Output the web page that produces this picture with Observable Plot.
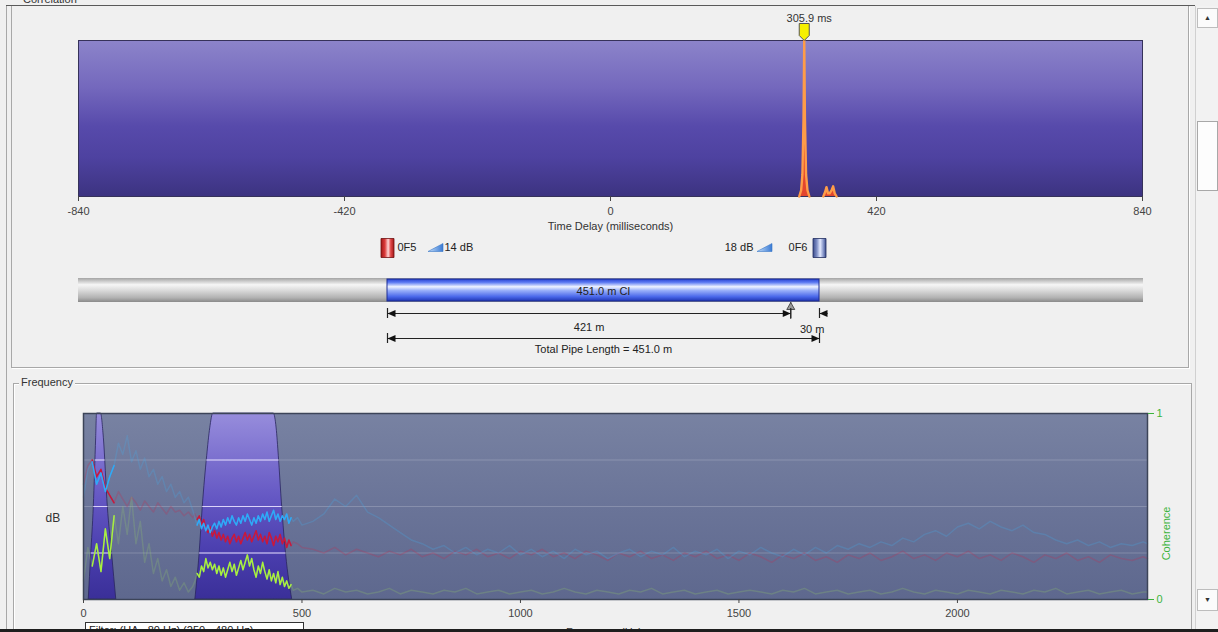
<!DOCTYPE html>
<html><head><meta charset="utf-8">
<script src="https://cdn.jsdelivr.net/npm/d3@7"></script>
<script src="https://cdn.jsdelivr.net/npm/@observablehq/plot@0.6"></script>
<style>
html,body{margin:0;padding:0;background:#f0f0f0;}
#root{position:relative;width:1218px;height:632px;overflow:hidden;background:#f0f0f0;font-family:"Liberation Sans",Arial,sans-serif;font-size:11px;color:#222;}
.abs{position:absolute;}
.abs svg{display:block;}
</style></head><body><div id="root"></div>
<script>
// ---------------- DATA ----------------
// Correlation (time delay in ms, normalised correlation)
const corrLag   = [298, 301, 303, 304.8, 305.9, 307, 308.8, 311, 314,   336, 339, 341, 343.5, 346, 349, 351.5, 354, 357];
const corrValue = [0,   0.04, 0.14, 0.5, 1.0,   0.5, 0.14, 0.04, 0,      0, 0.03, 0.06, 0.02, 0.02, 0.04, 0.065, 0.02, 0];
const peakDelay = 305.9;
const timeTicks = [-840, -420, 0, 420, 840];

// Pipe
const pipeLength = 451.0;
const pipeMaterial = "CI";
const leakDistance = 421;
const sensorNames = ["0F5", "0F6"];
const sensorGainDb = [14, 18];

// Frequency spectra
const freqHz = [
  0,10,20,30,40,50,60,70,80,90,100,110,120,130,140,150,160,170,180,190,200,210,220,230,240,250,
  255,260,265,270,275,280,285,290,295,300,305,310,315,320,325,330,335,340,345,350,355,360,365,370,375,380,385,390,395,400,405,410,415,420,425,430,435,440,445,450,455,460,465,470,475,480,
  490,500,
  525,550,575,600,625,650,675,700,725,750,775,800,825,850,875,900,925,950,975,1000,
  1025,1050,1075,1100,1125,1150,1175,1200,1225,1250,1275,1300,1325,1350,1375,1400,1425,1450,1475,1500,
  1525,1550,1575,1600,1625,1650,1675,1700,1725,1750,1775,1800,1825,1850,1875,1900,1925,1950,1975,2000,
  2025,2050,2075,2100,2125,2150,2175,2200,2225,2250,2275,2300,2325,2350,2375,2400,2425,
  2435];
const blueDb = [
  55,70,74,62,68,58,66,72,84,78,88,74,80,70,76,66,70,62,66,58,62,55,58,52,55,48,
  44,40,43,38,41,37,40,36,39,41,38,42,39,43,40,44,41,45,42,40,44,41,45,42,46,43,40,44,41,45,42,46,43,47,42,45,48,43,46,42,45,43,46,41,44,42,
  44,40,
  42,46,54,50,56,47,44,40,36,32,30,27,29,25,28,24,27,25,29,24,
  27,23,26,22,27,24,26,22,25,27,23,26,24,28,23,26,24,27,22,26,
  24,28,25,23,27,24,28,25,29,27,30,28,31,29,33,31,35,37,34,39,
  41,38,42,39,37,40,36,35,32,30,32,29,31,28,30,29,31,
  30];
const redDb = [
  62,72,75,66,70,60,56,52,58,54,50,55,52,48,53,50,47,52,49,46,50,47,48,45,47,44,
  46,43,45,40,43,38,36,39,34,37,33,36,32,35,31,34,30,33,35,31,34,30,33,36,32,35,31,34,37,32,35,31,34,30,36,33,29,34,31,35,30,33,28,32,29,31,
  30,28,
  27,25,28,24,27,25,23,26,24,27,23,25,22,26,24,27,23,25,22,26,
  24,27,23,25,22,26,24,21,25,23,26,22,24,21,25,23,26,22,24,21,
  25,23,20,24,22,25,21,23,20,24,22,25,21,23,26,22,24,21,25,23,
  26,22,24,21,25,23,20,24,22,25,21,23,20,24,22,21,23,
  22];
const coherence = [
  0.10,0.28,0.18,0.30,0.15,0.38,0.22,0.45,0.30,0.50,0.35,0.55,0.30,0.42,0.20,0.30,0.14,0.22,0.10,0.16,0.07,0.12,0.05,0.09,0.04,0.07,
  0.10,0.14,0.12,0.18,0.15,0.22,0.17,0.20,0.16,0.19,0.14,0.18,0.13,0.17,0.12,0.16,0.20,0.15,0.19,0.13,0.17,0.21,0.16,0.20,0.24,0.18,0.22,0.16,0.12,0.18,0.14,0.20,0.15,0.11,0.16,0.10,0.14,0.09,0.15,0.08,0.12,0.07,0.10,0.06,0.08,0.05,
  0.06,0.04,
  0.05,0.03,0.06,0.04,0.05,0.03,0.04,0.06,0.03,0.05,0.04,0.03,0.05,0.04,0.06,0.03,0.04,0.05,0.03,0.04,
  0.05,0.03,0.04,0.06,0.04,0.03,0.05,0.04,0.03,0.05,0.04,0.06,0.03,0.04,0.05,0.03,0.04,0.05,0.03,0.04,
  0.05,0.04,0.03,0.05,0.04,0.06,0.03,0.04,0.05,0.03,0.04,0.05,0.03,0.04,0.06,0.04,0.03,0.05,0.04,0.03,
  0.05,0.04,0.03,0.05,0.04,0.03,0.05,0.04,0.06,0.03,0.04,0.05,0.03,0.04,0.05,0.03,0.04,
  0.04];
// Filter pass-band shapes
const filterBand = [1,1,1,1,1,1,1,1,1,1, 2,2,2,2,2,2,2,2,2,2,2,2];
const filterHz   = [12,17.5,23.6,29,31,40,46.5,55.6,65.6,75, 256,265.5,273,283,290,297,435.5,442,447,454.6,463.8,477.6];
const filterGain = [0,0.24,0.5,0.87,1,1,0.87,0.5,0.24,0, 0,0.24,0.5,0.77,0.92,1,1,0.92,0.77,0.5,0.24,0];
const freqTicks = [0, 500, 1000, 1500, 2000];
const dbGrid = [25, 50, 75];
const cohTicks = [0, 1];
const filterText = "Filter: (HA - 80 Hz) (250 - 480 Hz)";

// ---------------- LAYOUT ----------------
const W = 1190;
const FONT = "'Liberation Sans', Arial, sans-serif";
const root = document.getElementById("root");
function box(css, html = "") {
  const d = document.createElement("div");
  d.className = "abs"; d.style.cssText = css; d.innerHTML = html;
  root.appendChild(d); return d;
}
function place(node, left, top) {
  const d = box(`left:${left}px;top:${top}px;`);
  d.appendChild(node);
}
const defs = (html) => () => {
  const g = document.createElementNS("http://www.w3.org/2000/svg", "defs");
  g.innerHTML = html; return g;
};
const sym = (fn) => ({ draw(ctx) { fn(ctx); } });
const markerSym = sym(c => { c.moveTo(-5,-9); c.lineTo(5,-9); c.lineTo(5,3); c.lineTo(0,8); c.lineTo(-5,3); c.closePath(); });
const sensorSym = sym(c => { c.rect(-6.5,-9.5,13,19); });
const gainSym = sym(c => { c.moveTo(-7.5,4); c.lineTo(7.5,4); c.lineTo(7.5,-4); c.closePath(); });
const arrowL = sym(c => { c.moveTo(0,0); c.lineTo(8,-3.5); c.lineTo(8,3.5); c.closePath(); });
const arrowR = sym(c => { c.moveTo(0,0); c.lineTo(-8,-3.5); c.lineTo(-8,3.5); c.closePath(); });
const leakSym = sym(c => { c.moveTo(0,-4); c.lineTo(4,3); c.lineTo(-4,3); c.closePath(); });

// window chrome
box("left:6px;top:5px;width:1px;height:627px;background:#a8a8a8");
box("left:6px;top:5px;width:1189px;height:1px;background:#5a5a5a");
box("left:11px;top:6px;width:1176px;height:361px;border-left:1px solid #a8a8a8;border-right:1px solid #a8a8a8;border-bottom:1px solid #a8a8a8;box-shadow:1px 1px 0 #fff");
box("left:21px;top:-7px;padding:0 2px;background:#f0f0f0;color:#333", "Correlation");
box("left:13px;top:383px;width:1177px;height:260px;border:1px solid #a8a8a8;box-shadow:inset 1px 1px 0 #fff");
box("left:19px;top:376px;padding:0 2px;background:#f0f0f0;color:#333", "Frequency");
box("left:1195px;top:6px;width:23px;height:626px;background:#f2f2f2;border-left:1px solid #d0d0d0");
box("left:1197px;top:8px;width:19px;height:18px;border:1px solid #bdbdbd;background:#fbfbfb;font-size:7px;text-align:center;line-height:18px;color:#333", "▲");
box("left:1197px;top:121px;width:19px;height:68px;border:1px solid #a8a8a8;background:#fdfdfd");
box("left:1197px;top:589px;width:19px;height:20px;border:1px solid #bdbdbd;background:#fbfbfb;font-size:7px;text-align:center;line-height:20px;color:#333", "▼");

// ---------------- CORRELATION PLOT ----------------
const corrData = corrLag.map((lag, i) => ({ lag, v: corrValue[i], g: lag < 325 ? "peak" : "side" }));
const p1 = Plot.plot({
  width: W, height: 240,
  marginLeft: 78, marginRight: W - 1142, marginTop: 40, marginBottom: 44,
  style: { background: "transparent", fontFamily: FONT, fontSize: "11px", color: "#333", overflow: "visible" },
  x: { domain: [timeTicks[0], timeTicks[timeTicks.length - 1]] },
  y: { domain: [0, 1], axis: null },
  marks: [
    defs(`<linearGradient id="corrGrad" x1="0" y1="0" x2="0" y2="1">
      <stop offset="0" stop-color="#8c84ca"/><stop offset="0.3" stop-color="#7468bd"/>
      <stop offset="0.55" stop-color="#574aab"/><stop offset="0.75" stop-color="#4e42a0"/>
      <stop offset="1" stop-color="#3c3380"/></linearGradient>`),
    Plot.frame({ fill: "url(#corrGrad)", stroke: "#36325a" }),
    Plot.areaY(corrData, { x: "lag", y: "v", z: "g", fill: "#e2452e" }),
    Plot.lineY(corrData, { x: "lag", y: "v", z: "g", stroke: "#ff9c48", strokeWidth: 2.4 }),
    Plot.axisX({ ticks: timeTicks, tickSize: 5, tickPadding: 6, tickFormat: d => String(d), label: null, color: "#444" }),
    Plot.text(["Time Delay (milliseconds)"], { frameAnchor: "bottom", dy: 33, fill: "#333" }),
    Plot.dot([peakDelay], { x: d => d, frameAnchor: "top", dy: -8, symbol: markerSym, fill: "#f6f000", stroke: "#555", strokeWidth: 1 }),
    Plot.text([peakDelay], { x: d => d, frameAnchor: "top", dy: -26, dx: 5, text: d => `${d} ms`, fill: "#333" })
  ]
});
place(p1, 0, 0);

// ---------------- PIPE DIAGRAM ----------------
const pxPerM = (819 - 387) / pipeLength;
const xPipe = [(78 - 387) / pxPerM, (1143 - 387) / pxPerM];
const sensors = sensorNames.map((name, i) => ({ name, at: i === 0 ? 0 : pipeLength, gain: sensorGainDb[i] }));
const ends1 = [{ x: 0 }, { x: leakDistance }, { x: pipeLength }];
const ends2 = [{ x: 0 }, { x: pipeLength }];
const T = { fill: "#222", fontSize: 11 };
const p2 = Plot.plot({
  width: W, height: 130,
  marginLeft: 78, marginRight: W - 1143, marginTop: 0, marginBottom: 0,
  style: { background: "transparent", fontFamily: FONT, fontSize: "11px", color: "#222", overflow: "visible" },
  x: { domain: xPipe, axis: null },
  y: { domain: [0, 130], reverse: true, axis: null },
  marks: [
    defs(`<linearGradient id="pipeGray" x1="0" y1="0" x2="0" y2="1">
        <stop offset="0" stop-color="#a4a4a4"/><stop offset="0.28" stop-color="#f6f6f6"/>
        <stop offset="0.5" stop-color="#dcdcdc"/><stop offset="0.82" stop-color="#b2b2b2"/><stop offset="1" stop-color="#8a8a8a"/></linearGradient>
      <linearGradient id="pipeBlue" x1="0" y1="0" x2="0" y2="1">
        <stop offset="0" stop-color="#2842d0"/><stop offset="0.15" stop-color="#5a78f2"/>
        <stop offset="0.35" stop-color="#eef3ff"/><stop offset="0.52" stop-color="#9ab0fa"/>
        <stop offset="0.8" stop-color="#4a68ea"/><stop offset="1" stop-color="#2036b4"/></linearGradient>
      <linearGradient id="iconRed" x1="0" y1="0" x2="1" y2="0">
        <stop offset="0" stop-color="#a01818"/><stop offset="0.3" stop-color="#dc3a3a"/>
        <stop offset="0.55" stop-color="#ffd8d8"/><stop offset="0.75" stop-color="#e04646"/><stop offset="1" stop-color="#a41a1a"/></linearGradient>
      <linearGradient id="iconBlue" x1="0" y1="0" x2="1" y2="0">
        <stop offset="0" stop-color="#3c4c8c"/><stop offset="0.3" stop-color="#8090c6"/>
        <stop offset="0.55" stop-color="#e4eaff"/><stop offset="0.8" stop-color="#8494c8"/><stop offset="1" stop-color="#3c4c8c"/></linearGradient>
      <linearGradient id="gainGrad" x1="0" y1="0" x2="1" y2="0">
        <stop offset="0" stop-color="#c4defa"/><stop offset="1" stop-color="#3a7ad4"/></linearGradient>`),
    // legend
    Plot.dot([sensors[0]], { x: "at", y: 15.5, symbol: sensorSym, fill: "url(#iconRed)", stroke: "#701010", strokeWidth: 0.8 }),
    Plot.dot([sensors[1]], { x: "at", y: 15.5, symbol: sensorSym, fill: "url(#iconBlue)", stroke: "#202c60", strokeWidth: 0.8 }),
    Plot.text([sensors[0]], { x: "at", y: 15, text: "name", dx: 10, textAnchor: "start", ...T }),
    Plot.text([sensors[1]], { x: "at", y: 15, text: "name", dx: -12, textAnchor: "end", ...T }),
    Plot.dot([sensors[0]], { x: "at", y: 15, dx: 48, symbol: gainSym, fill: "url(#gainGrad)", stroke: "#3a78c8", strokeWidth: 0.6 }),
    Plot.dot([sensors[1]], { x: "at", y: 15, dx: -55, symbol: gainSym, fill: "url(#gainGrad)", stroke: "#3a78c8", strokeWidth: 0.6 }),
    Plot.text([sensors[0]], { x: "at", y: 15, text: d => `${d.gain} dB`, dx: 57, textAnchor: "start", ...T }),
    Plot.text([sensors[1]], { x: "at", y: 15, text: d => `${d.gain} dB`, dx: -66, textAnchor: "end", ...T }),
    // pipe
    Plot.rect([xPipe], { x1: d => d[0], x2: d => d[1], y1: 46, y2: 70, fill: "url(#pipeGray)" }),
    Plot.rect([pipeLength], { x1: 0, x2: d => d, y1: 47, y2: 69, fill: "url(#pipeBlue)", stroke: "#1c2c94", strokeWidth: 1 }),
    Plot.text([pipeLength], { x: d => d / 2, y: 59, text: d => `${d.toFixed(1)} m ${pipeMaterial}`, ...T }),
    // leak marker
    Plot.ruleX([leakDistance], { x: d => d, y1: 70, y2: 87, stroke: "#333" }),
    Plot.dot([leakDistance], { x: d => d, y: 74, symbol: leakSym, fill: "#9a9a9a", stroke: "#333", strokeWidth: 0.8 }),
    // dimension line 1 (0F5 -> leak, leak -> 0F6)
    Plot.ruleY([leakDistance], { y: 81, x1: 0, x2: d => d, stroke: "#222" }),
    Plot.ruleY([pipeLength], { y: 81, x1: d => d, x2: d => d + 9, stroke: "#222" }),
    Plot.ruleX(ends1, { x: "x", y1: 76, y2: 86, stroke: "#222", strokeWidth: 1.2 }),
    Plot.dot([0], { x: d => d, y: 81, symbol: arrowL, fill: "#111" }),
    Plot.dot([leakDistance], { x: d => d, y: 81, symbol: arrowR, fill: "#111" }),
    Plot.dot([pipeLength], { x: d => d, y: 81, symbol: arrowL, fill: "#111" }),
    Plot.text([leakDistance], { x: d => d / 2, y: 95, text: d => `${d} m`, ...T }),
    Plot.text([pipeLength - leakDistance], { x: d => leakDistance + d / 2, y: 97, dx: 7, text: d => `${d} m`, ...T }),
    // dimension line 2 (total)
    Plot.ruleY([pipeLength], { y: 106, x1: 0, x2: d => d, stroke: "#222" }),
    Plot.ruleX(ends2, { x: "x", y1: 101, y2: 111, stroke: "#222", strokeWidth: 1.2 }),
    Plot.dot([0], { x: d => d, y: 106, symbol: arrowL, fill: "#111" }),
    Plot.dot([pipeLength], { x: d => d, y: 106, symbol: arrowR, fill: "#111" }),
    Plot.text([pipeLength], { x: d => d / 2, y: 117, text: d => `Total Pipe Length = ${d.toFixed(1)} m`, ...T })
  ]
});
place(p2, 0, 232);

// ---------------- FREQUENCY PLOT ----------------
const freqData = freqHz.map((f, i) => ({ f, blue: blueDb[i], red: redDb[i], coh: coherence[i] }));
const filterData = filterHz.map((f, i) => ({ f, g: filterGain[i], band: filterBand[i] }));
const bands = d3.groups(filterData, d => d.band).map(([, pts]) => pts);
const bandRanges = bands.map(pts => d3.extent(pts, d => d.f));
const inBand = f => bandRanges.some(([a, b]) => f >= a && f <= b);
function crossing(pts, level) {
  let left = null, right = null;
  for (let i = 1; i < pts.length; i++) {
    const a = pts[i - 1], b = pts[i];
    if (left === null && a.g < level && b.g >= level) left = a.f + (level - a.g) / (b.g - a.g) * (b.f - a.f);
    if (a.g >= level && b.g < level) right = a.f + (a.g - level) / (a.g - b.g) * (b.f - a.f);
  }
  return [left, right];
}
const gridSegs = [];
for (const pts of bands) for (const lv of dbGrid) {
  const [x1, x2] = crossing(pts, lv / 100);
  if (x1 != null && x2 != null) gridSegs.push({ y: lv, x1, x2 });
}
const bright = key => d => inBand(d.f) ? (key === "coh" ? d.coh * 100 : d[key]) : NaN;
const p3 = Plot.plot({
  width: W, height: 249,
  marginLeft: 83, marginRight: W - 1147, marginTop: 30, marginBottom: 33,
  style: { background: "transparent", fontFamily: FONT, fontSize: "11px", color: "#333", overflow: "visible" },
  x: { domain: [0, 2435] },
  y: { domain: [0, 100] },
  marks: [
    defs(`<linearGradient id="freqBg" x1="0" y1="0" x2="0" y2="1">
        <stop offset="0" stop-color="#7882a2"/><stop offset="0.5" stop-color="#6a7498"/><stop offset="1" stop-color="#5e688e"/></linearGradient>
      <linearGradient id="bandGrad" x1="0" y1="0" x2="0" y2="1">
        <stop offset="0" stop-color="#978ddc"/><stop offset="0.45" stop-color="#6558c4"/>
        <stop offset="0.75" stop-color="#4a3eae"/><stop offset="1" stop-color="#3a2f98"/></linearGradient>`),
    Plot.frame({ fill: "url(#freqBg)" }),
    Plot.areaY(filterData, { x: "f", y: d => d.g * 100, z: "band", curve: "monotone-x", fill: "url(#bandGrad)", stroke: "#2a2660", strokeWidth: 0.8 }),
    Plot.ruleY(dbGrid, { stroke: "#ffffff", strokeOpacity: 0.2 }),
    Plot.ruleY(gridSegs, { y: "y", x1: "x1", x2: "x2", stroke: "#e6deff", strokeOpacity: 0.9 }),
    Plot.lineY(freqData, { x: "f", y: "red", stroke: "#c42a4c", strokeOpacity: 0.26 }),
    Plot.lineY(freqData, { x: "f", y: "blue", stroke: "#44aae6", strokeOpacity: 0.26 }),
    Plot.lineY(freqData, { x: "f", y: d => d.coh * 100, stroke: "#9cd862", strokeOpacity: 0.22 }),
    Plot.lineY(freqData, { x: "f", y: bright("red"), stroke: "#c8183c", strokeWidth: 1.5 }),
    Plot.lineY(freqData, { x: "f", y: bright("blue"), stroke: "#2eaaf8", strokeWidth: 1.5 }),
    Plot.lineY(freqData, { x: "f", y: bright("coh"), stroke: "#a8f040", strokeWidth: 1.5 }),
    Plot.frame({ stroke: "#3c4458", strokeWidth: 1.5 }),
    Plot.axisX({ ticks: freqTicks, tickSize: 4, tickPadding: 6, tickFormat: d => String(d), label: null, color: "#444" }),
    Plot.axisY({ anchor: "right", ticks: cohTicks.map(c => c * 100), tickFormat: d => String(d / 100), tickSize: 6, tickPadding: 3, label: null, color: "#3cb43c" }),
    Plot.text(["dB"], { frameAnchor: "left", dx: -38, dy: 12, fontSize: 12, fill: "#333" }),
    Plot.text(["Coherence"], { frameAnchor: "right", dx: 19, rotate: -90, fill: "#3cb43c", fontSize: 11 })
  ]
});
place(p3, 0, 383);

// bottom bits
box(`left:85px;top:622px;width:214px;height:14px;border:1px solid #333;background:#fff;padding-left:3px;line-height:14px;white-space:nowrap;color:#222`, filterText);
box("left:566px;top:626px;color:#333", "Frequency (Hz)");
box("left:0;top:629px;width:1218px;height:3px;background:#1e1e1e");
</script></body></html>
